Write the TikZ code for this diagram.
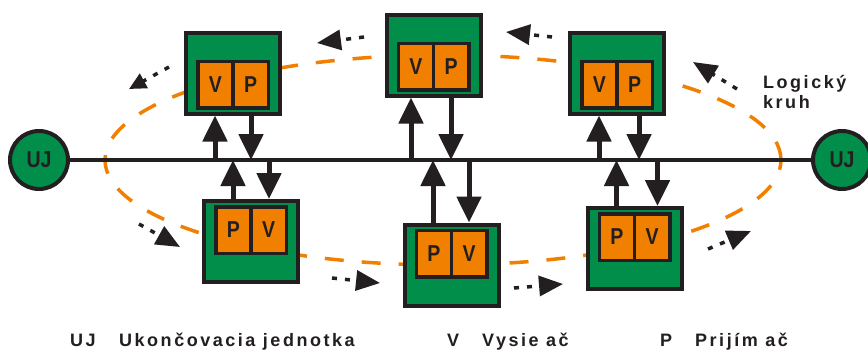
\documentclass[tikz,border=0pt]{standalone}
\usepackage{fontspec}
\setmainfont{Liberation Sans}
\newfontfamily\boxfont[FakeStretch=0.85]{Liberation Sans}
\newfontfamily\legfont[LetterSpace=14]{Liberation Sans}
\usetikzlibrary{arrows.meta,calc}
\definecolor{gr}{RGB}{0,142,74}
\definecolor{orng}{RGB}{242,128,0}
\definecolor{dk}{RGB}{35,31,32}
\begin{document}
\begin{tikzpicture}[x=1pt,y=-1pt,
  gbox/.style={draw=dk, fill=gr, line width=4pt, minimum width=94pt, minimum height=81pt, inner sep=0pt},
  half/.style={draw=dk, fill=orng, line width=3.5pt, minimum width=35.25pt, minimum height=46.5pt,
    inner sep=0pt, outer sep=0pt, text=dk, font=\boxfont\bfseries\fontsize{23}{23}\selectfont},
  ujc/.style={circle, draw=dk, fill=gr, line width=4pt, minimum size=58pt, inner sep=0pt,
    text=dk, font=\boxfont\bfseries\fontsize{23}{23}\selectfont},
  bus/.style={draw=dk, line width=4pt},
  vline/.style={draw=dk, line width=5pt, -{Triangle[length=26pt,width=24pt]}},
  ring/.style={draw=orng, line width=3.5pt, dash pattern=on 19pt off 18pt},
  dotarr/.style={draw=dk, line width=3.5pt, dash pattern=on 5pt off 8pt, -{Triangle[length=24pt,width=20pt]}},
  leg/.style={text=dk, inner sep=0pt, anchor=base west, font=\legfont\bfseries\fontsize{18}{20}\selectfont}
]
\useasboundingbox (0,0) rectangle (868,351);
\fill[white] (0,0) rectangle (868,351);

% logical ring
\draw[ring] (443,160) ellipse [x radius=338pt, y radius=105pt];

% terminators and bus
\node[ujc] (ujl) at (39,160) {UJ};
\node[ujc] (ujr) at (842,160) {UJ};
\draw[bus] (ujl) -- (ujr);

% stations, top row
\node[gbox] (t1) at (233,73) {};
\node[half, anchor=east] (t1v) at ($(t1.center)+(0,11.5)$) {V};
\node[half, anchor=west] (t1p) at ($(t1.center)+(0,11.5)$) {P};

\node[gbox] (t2) at (433.5,55) {};
\node[half, anchor=east] (t2v) at ($(t2.center)+(0,11.5)$) {V};
\node[half, anchor=west] (t2p) at ($(t2.center)+(0,11.5)$) {P};

\node[gbox] (t3) at (617,73) {};
\node[half, anchor=east] (t3v) at ($(t3.center)+(0,11.5)$) {V};
\node[half, anchor=west] (t3p) at ($(t3.center)+(0,11.5)$) {P};

% stations, bottom row
\node[gbox] (b1) at (251,241.5) {};
\node[half, anchor=east] (b1p) at ($(b1.center)+(0,-11.5)$) {P};
\node[half, anchor=west] (b1v) at ($(b1.center)+(0,-11.5)$) {V};

\node[gbox] (b2) at (451.5,265) {};
\node[half, anchor=east] (b2p) at ($(b2.center)+(0,-11.5)$) {P};
\node[half, anchor=west] (b2v) at ($(b2.center)+(0,-11.5)$) {V};

\node[gbox] (b3) at (634.5,248.5) {};
\node[half, anchor=east] (b3p) at ($(b3.center)+(0,-11.5)$) {P};
\node[half, anchor=west] (b3v) at ($(b3.center)+(0,-11.5)$) {V};

% bus connections
\draw[vline] ([xshift=-18pt]t1.south |- ujl.center) -- ([xshift=-18pt]t1.south);
\draw[vline] ([xshift=18pt]t1.south) -- ([xshift=18pt]t1.south |- ujl.center);
\draw[vline] ([xshift=-22.5pt]t2.south |- ujl.center) -- ([xshift=-22.5pt]t2.south);
\draw[vline] ([xshift=17.5pt]t2.south) -- ([xshift=17.5pt]t2.south |- ujl.center);
\draw[vline] ([xshift=-18pt]t3.south |- ujl.center) -- ([xshift=-18pt]t3.south);
\draw[vline] ([xshift=22pt]t3.south) -- ([xshift=22pt]t3.south |- ujl.center);

\draw[vline] ([xshift=-18pt]b1.north) -- ([xshift=-18pt]b1.north |- ujl.center);
\draw[vline] ([xshift=18pt]b1.north |- ujl.center) -- ([xshift=18pt]b1.north);
\draw[vline] ([xshift=-18.5pt]b2.north) -- ([xshift=-18.5pt]b2.north |- ujl.center);
\draw[vline] ([xshift=17.5pt]b2.north |- ujl.center) -- ([xshift=17.5pt]b2.north);
\draw[vline] ([xshift=-18pt]b3.north) -- ([xshift=-18pt]b3.north |- ujl.center);
\draw[vline] ([xshift=23pt]b3.north |- ujl.center) -- ([xshift=23pt]b3.north);

% direction of the logical ring
\coordinate (a1s) at (169,67);  \coordinate (a1e) at (129,89);
\coordinate (a2s) at (364,37);  \coordinate (a2e) at (317,43);
\coordinate (a3s) at (552,37);  \coordinate (a3e) at (506,32);
\coordinate (a4s) at (737,89);  \coordinate (a4e) at (693,62);
\coordinate (a5s) at (139,224); \coordinate (a5e) at (180,247);
\coordinate (a6s) at (332,278); \coordinate (a6e) at (380,283);
\coordinate (a7s) at (514,288); \coordinate (a7e) at (563,284);
\coordinate (a8s) at (708,249); \coordinate (a8e) at (751,231);
\draw[dotarr, -{Triangle[length=17pt,width=16pt]}] (a1s) -- (a1e);
\draw[dotarr] (a2s) -- (a2e);
\draw[dotarr] (a3s) -- (a3e);
\draw[dotarr] (a4s) -- (a4e);
\draw[dotarr] (a5s) -- (a5e);
\draw[dotarr] (a6s) -- (a6e);
\draw[dotarr] (a7s) -- (a7e);
\draw[dotarr] (a8s) -- (a8e);

% labels
\node[leg] (lk1) at (763,88) {Logický};
\node[leg] (lk2) at (763,108) {kruh};

\node[leg] (l1) at (70,346) {UJ};
\node[leg] (l2) at (119,346) {Ukončovacia jednotka};
\node[leg] (l3) at (447,346) {V};
\node[leg] (l4) at (482,346) {Vysie ač};
\node[leg] (l5) at (660,346) {P};
\node[leg] (l6) at (695,346) {Prijím ač};
\end{tikzpicture}
\end{document}
